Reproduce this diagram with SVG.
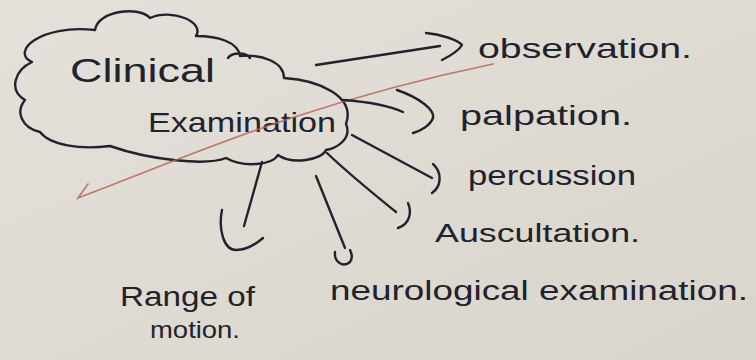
<svg xmlns="http://www.w3.org/2000/svg" width="756" height="360" viewBox="0 0 756 360">
<defs>
<linearGradient id="paper" x1="0" y1="0" x2="1" y2="1">
<stop offset="0" stop-color="#e4e1da"/>
<stop offset="1" stop-color="#d9d5cc"/>
</linearGradient>
</defs>
<style>
.ink{fill:none;stroke:#22222c;stroke-width:2.4;stroke-linecap:round;stroke-linejoin:round}
.t{font-family:"Liberation Sans","DejaVu Sans",sans-serif;fill:#22222c}
.red{fill:none;stroke:#b5645a;stroke-width:1.6;stroke-linecap:round;opacity:0.85}
</style>
<rect width="756" height="360" fill="url(#paper)"/>
<g id="node-clinical-examination">
<path class="ink" d="M 32 62 C 10 52, 40 24, 95 30 C 98 10, 140 6, 150 18 C 172 8, 205 22, 196 36 C 218 36, 238 42, 240 56 C 262 54, 284 62, 284 78 C 318 80, 356 96, 346 124 C 352 138, 338 148, 326 150 C 322 160, 292 165, 278 155 C 272 165, 244 168, 226 158 C 206 166, 150 160, 110 146 C 80 150, 50 145, 40 132 C 22 128, 15 112, 25 100 C 8 90, 15 70, 32 62 Z"/>
<path class="ink" d="M 228 58 C 232 52, 246 52, 250 58"/>
<text class="t" x="70" y="82" font-size="34" textLength="145" lengthAdjust="spacingAndGlyphs">Clinical</text>
<text class="t" x="148" y="132" font-size="28" textLength="188" lengthAdjust="spacingAndGlyphs">Examination</text>
</g>
<path class="red" d="M 88 184 L 78 198 C 180 160, 300 104, 493 64"/>
<g id="connectors">
<path class="ink" d="M 316 65 L 440 46"/>
<path class="ink" d="M 426 33 C 440 34, 458 40, 462 45 C 458 52, 448 57, 442 60"/>
<path class="ink" d="M 343 100 C 370 102, 390 106, 403 112"/>
<path class="ink" d="M 397 90 C 420 98, 435 110, 433 118 C 430 126, 420 131, 413 133"/>
<path class="ink" d="M 352 135 L 432 178"/>
<path class="ink" d="M 433 164 C 442 172, 442 186, 432 193"/>
<path class="ink" d="M 327 153 C 350 175, 375 195, 396 212"/>
<path class="ink" d="M 408 203 C 412 212, 410 224, 398 228"/>
<path class="ink" d="M 316 176 L 345 248"/>
<path class="ink" d="M 335 252 C 334 262, 343 268, 350 262 C 353 258, 352 254, 350 250"/>
<path class="ink" d="M 262 162 L 244 226"/>
<path class="ink" d="M 222 210 C 218 230, 224 250, 236 250 C 246 250, 256 244, 263 238"/>
</g>
<g id="node-observation"><text class="t" x="478" y="58" font-size="28" textLength="214" lengthAdjust="spacingAndGlyphs">observation.</text></g>
<g id="node-palpation"><text class="t" x="460" y="125" font-size="28" textLength="172" lengthAdjust="spacingAndGlyphs">palpation.</text></g>
<g id="node-percussion"><text class="t" x="468" y="185" font-size="27" textLength="168" lengthAdjust="spacingAndGlyphs">percussion</text></g>
<g id="node-auscultation"><text class="t" x="435" y="242" font-size="26" textLength="205" lengthAdjust="spacingAndGlyphs">Auscultation.</text></g>
<g id="node-neurological"><text class="t" x="330" y="300" font-size="27" textLength="418" lengthAdjust="spacingAndGlyphs">neurological examination.</text></g>
<g id="node-range-of-motion">
<text class="t" x="120" y="306" font-size="27" textLength="135" lengthAdjust="spacingAndGlyphs">Range of</text>
<text class="t" x="150" y="338" font-size="24" textLength="90" lengthAdjust="spacingAndGlyphs">motion.</text>
</g>
</svg>
